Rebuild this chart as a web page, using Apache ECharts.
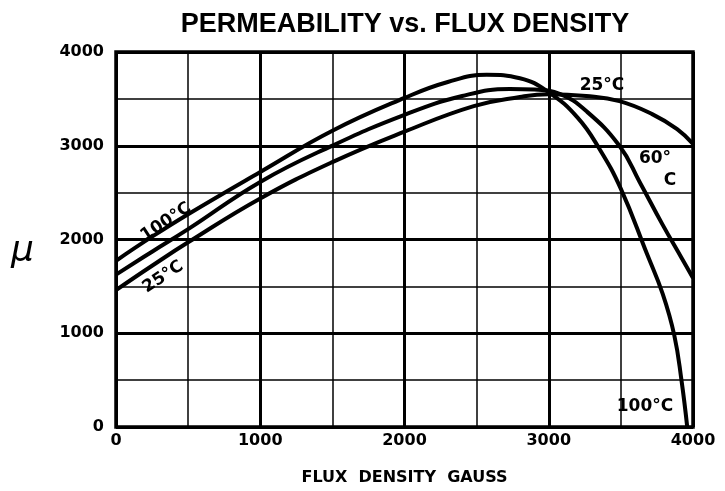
<!DOCTYPE html>
<html>
<head>
<meta charset="utf-8">
<script src="https://cdn.jsdelivr.net/npm/echarts@6/dist/echarts.min.js"></script>
<style>html,body{margin:0;padding:0;background:#fff}#c{width:725px;height:491px}</style>
</head>
<body>
<div id="c"></div>
<script>
const titleText = 'PERMEABILITY vs. FLUX DENSITY';
const xAxisName = 'FLUX  DENSITY  GAUSS';
const yAxisName = 'μ';

const flux100 = [0, 250, 500, 1000, 1500, 2000, 2300, 2570, 2800, 3000, 3200, 3350, 3500, 3680, 3790, 3870, 3920, 3960];
const mu100   = [1773, 2030, 2270, 2720, 3160, 3510, 3680, 3757, 3720, 3570, 3300, 2970, 2540, 1850, 1420, 980, 500, 0];

const flux60 = [0, 250, 500, 1000, 1500, 2000, 2400, 2730, 2900, 3080, 3260, 3490, 3630, 3790, 3920, 4000];
const mu60   = [1625, 1870, 2110, 2614, 3001, 3330, 3530, 3606, 3600, 3550, 3370, 3000, 2614, 2156, 1805, 1590];

const flux25 = [0, 250, 500, 1000, 1500, 2000, 2480, 2800, 3000, 3260, 3490, 3720, 3890, 4000];
const mu25   = [1460, 1720, 1970, 2438, 2825, 3150, 3423, 3520, 3550, 3530, 3476, 3335, 3177, 3020];

const xTicks = [0, 1000, 2000, 3000, 4000];
const yTicks = [0, 1000, 2000, 3000, 4000];

function pairs(xs, ys) { return xs.map((x, i) => [x, ys[i]]); }

const chart = echarts.init(document.getElementById('c'));
const FONT = '"Liberation Sans", Arial, sans-serif';
const WFONT = '"DejaVu Sans", sans-serif';
const lineSeries = (name, xs, ys) => ({
  name, type: 'line', xAxisIndex: 0, yAxisIndex: 0,
  data: pairs(xs, ys), smooth: 0.45, showSymbol: false, symbol: 'none',
  lineStyle: { color: '#000', width: 4 }, z: 5, silent: true
});

chart.setOption({
  animation: false,
  backgroundColor: '#fff',
  title: {
    text: titleText, left: 400, top: 6, textAlign: 'center',
    textStyle: { fontFamily: FONT, fontWeight: 'bold', fontSize: 27, color: '#000' }
  },
  grid: { left: 116, right: 32, top: 52, bottom: 60, show: true, borderColor: '#000', borderWidth: 3.5, z: 3 },
  xAxis: [
    { type: 'value', min: 0, max: 4000, interval: 1000,
      axisLine: { show: false }, axisTick: { show: false },
      axisLabel: { fontFamily: WFONT, fontWeight: 'bold', fontSize: 16, color: '#000', margin: 6,
        formatter: v => xTicks.includes(v) ? String(v) : '' },
      splitLine: { show: true, lineStyle: { color: '#000', width: 3 } },
      name: xAxisName, nameLocation: 'middle', nameGap: 43,
      nameTextStyle: { fontFamily: WFONT, fontWeight: 'bold', fontSize: 16, color: '#000' } },
    { type: 'value', min: 0, max: 4000, interval: 500, show: true, position: 'bottom',
      axisLine: { show: false }, axisTick: { show: false }, axisLabel: { show: false },
      splitLine: { show: true, lineStyle: { color: '#000', width: 1.5 } } }
  ],
  yAxis: [
    { type: 'value', min: 0, max: 4000, interval: 1000,
      axisLine: { show: false }, axisTick: { show: false },
      axisLabel: { fontFamily: WFONT, fontWeight: 'bold', fontSize: 16, color: '#000', margin: 12,
        formatter: v => yTicks.includes(v) ? String(v) : '' },
      splitLine: { show: true, lineStyle: { color: '#000', width: 3 } } },
    { type: 'value', min: 0, max: 4000, interval: 500, position: 'left',
      axisLine: { show: false }, axisTick: { show: false }, axisLabel: { show: false },
      splitLine: { show: true, lineStyle: { color: '#000', width: 1.5 } } }
  ],
  graphic: [
    { type: 'text', left: 11, top: 234, style: { text: yAxisName, font: 'italic 36px "DejaVu Sans", sans-serif', fill: '#000' } },
    { type: 'text', x: 166, y: 222, rotation: 0.58, style: { text: '100°C', font: 'bold 17px ' + WFONT, fill: '#000', align: 'center', verticalAlign: 'middle' }, z: 10 },
    { type: 'text', x: 163, y: 277, rotation: 0.58, style: { text: '25°C', font: 'bold 17px ' + WFONT, fill: '#000', align: 'center', verticalAlign: 'middle' }, z: 10 },
    { type: 'text', x: 602, y: 86, style: { text: '25°C', font: 'bold 17px ' + WFONT, fill: '#000', align: 'center', verticalAlign: 'middle' }, z: 10 },
    { type: 'text', x: 655, y: 159, style: { text: '60°', font: 'bold 17px ' + WFONT, fill: '#000', align: 'center', verticalAlign: 'middle' }, z: 10 },
    { type: 'text', x: 670, y: 181, style: { text: 'C', font: 'bold 17px ' + WFONT, fill: '#000', align: 'center', verticalAlign: 'middle' }, z: 10 },
    { type: 'text', x: 645, y: 407, style: { text: '100°C', font: 'bold 17px ' + WFONT, fill: '#000', align: 'center', verticalAlign: 'middle' }, z: 10 }
  ],
  series: [
    lineSeries('100°C', flux100, mu100),
    lineSeries('60°C', flux60, mu60),
    lineSeries('25°C', flux25, mu25)
  ]
});
</script>
</body>
</html>
